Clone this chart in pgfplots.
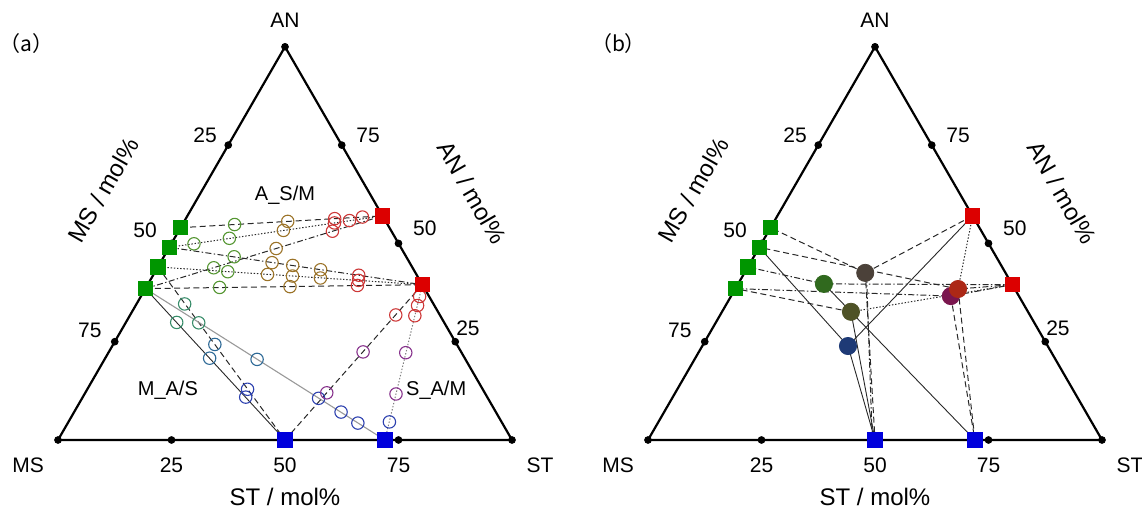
\documentclass[border=0pt]{standalone}
\usepackage{pgfplots}
\pgfplotsset{compat=1.18}
\usepackage{pgfplotstable}
\usepackage{fontspec}
\setmainfont{Liberation Sans}
\setsansfont{Liberation Sans}
\newfontfamily\cjk{Noto Sans CJK JP}

\definecolor{sqG}{RGB}{0,150,0}
\definecolor{sqR}{RGB}{220,0,0}
\definecolor{sqB}{RGB}{0,0,220}
\definecolor{cG}{RGB}{85,150,50}
\definecolor{cO}{RGB}{155,115,40}
\definecolor{cR}{RGB}{205,55,55}
\definecolor{cT}{RGB}{55,140,105}
\definecolor{cTB}{RGB}{45,105,150}
\definecolor{cB}{RGB}{45,65,175}
\definecolor{cP}{RGB}{135,50,140}
\definecolor{fBr}{RGB}{75,65,57}
\definecolor{fGr}{RGB}{48,105,30}
\definecolor{fOl}{RGB}{78,82,38}
\definecolor{fBl}{RGB}{30,58,118}
\definecolor{fRb}{RGB}{172,40,22}
\definecolor{fMa}{RGB}{122,22,78}
\definecolor{ln}{RGB}{40,40,40}

\tikzset{
  tk/.style={font=\fontsize{10.5}{12}\selectfont},
  ttl/.style={font=\fontsize{12}{14}\selectfont},
  grp/.style={font=\fontsize{10}{12}\selectfont},
}
\pgfplotsset{
  /pgfplots/table/tern/.style={/pgfplots/table/x expr={\thisrow{st}+0.5*\thisrow{an}},/pgfplots/table/y expr={0.866025*\thisrow{an}}},
  tri/.style={hide axis, clip=false, xmin=0,xmax=100,ymin=0,ymax=86.6025, x=2.27pt, y=2.27pt, anchor=south west},
  edge/.style={black, line width=1.1pt, no markers, line join=miter},
  tdot/.style={only marks, mark=*, mark size=1.7pt, black},
  sq/.style={only marks, mark=square*, mark size=3.6pt},
  oc/.style={only marks, mark=o, mark size=3.1pt, mark options={line width=0.55pt}},
  fc/.style={only marks, mark=*, mark size=4.3pt},
  ldash/.style={no markers, ln, line width=0.5pt, dash pattern=on 3pt off 1.8pt},
  ldot/.style={no markers, ln, line width=0.5pt, dash pattern=on 0.7pt off 0.9pt},
  ldd/.style={no markers, ln, line width=0.5pt, dash pattern=on 3pt off 1.2pt on 0.7pt off 1.2pt},
  lsol/.style={no markers, ln, line width=0.45pt},
  lgry/.style={no markers, gray!80, line width=0.55pt},
}

% end members: an st
\pgfplotstableread{
an st
54 0
49 0
44 0
38.5 0
}\tG
\pgfplotstableread{
an st
57 43
39.5 60.5
}\tR
\pgfplotstableread{
an st
0 50
0 72
}\tB
\pgfplotstableread{
an st
0 0
0 100
100 0
0 25
0 50
0 75
25 0
50 0
75 0
25 75
50 50
75 25
}\tDots
\pgfplotstableread{
an st
0 0
0 100
100 0
0 0
}\tTri
% open circles, panel (a)
\pgfplotstableread{
an st
54.8 11.5
49.9 5.0
51.3 12.1
43.8 12.4
46.6 15.5
42.8 16.0
38.8 16.2
}\aG
\pgfplotstableread{
an st
55.6 22.8
53.3 23.0
48.7 23.7
45.1 24.6
44.4 29.5
43.3 36.2
42.1 25.1
41.7 30.8
41.2 37.2
39.0 31.6
}\aO
\pgfplotstableread{
an st
56.3 32.8
56.7 38.7
55.2 33.3
55.8 36.3
53.1 33.9
41.9 45.3
40.6 45.9
39.3 46.3
36.5 61.4
34.2 62.1
31.6 62.8
31.8 58.5
}\aR
\pgfplotstableread{
an st
34.6 10.6
29.8 16.1
29.9 11.2
}\aT
\pgfplotstableread{
an st
24.3 22.4
20.8 23.0
20.5 33.6
}\aTB
\pgfplotstableread{
an st
12.9 35.3
10.9 35.9
10.6 52.1
7.1 58.8
4.3 63.9
4.6 70.7
}\aB
\pgfplotstableread{
an st
22.4 56.0
12.0 53.2
22.2 65.5
11.7 68.6
}\aP

\begin{document}
\begin{tikzpicture}
\useasboundingbox (0,0) rectangle (571pt,256pt);
% ---------------- panel (a)
\begin{axis}[tri, at={(29pt,36pt)}]
% tie lines A_S/M
\addplot[ldash] table[tern,row sep=\\]{an st\\54 0\\57 43\\};
\addplot[ldot]  table[tern,row sep=\\]{an st\\49 0\\57 43\\};
\addplot[ldd]   table[tern,row sep=\\]{an st\\38.5 0\\57 43\\};
\addplot[ldd]   table[tern,row sep=\\]{an st\\49 0\\39.5 60.5\\};
\addplot[ldot]  table[tern,row sep=\\]{an st\\44 0\\39.5 60.5\\};
\addplot[ldash] table[tern,row sep=\\]{an st\\38.5 0\\39.5 60.5\\};
% M_A/S
\addplot[ldash] table[tern,row sep=\\]{an st\\44 0\\0 50\\};
\addplot[lsol]  table[tern,row sep=\\]{an st\\38.5 0\\0 50\\};
\addplot[lgry]  table[tern,row sep=\\]{an st\\38.5 0\\0 72\\};
% S_A/M
\addplot[ldash] table[tern,row sep=\\]{an st\\39.5 60.5\\0 50\\};
\addplot[ldot,gray] table[tern,row sep=\\]{an st\\39.5 60.5\\0 72\\};
% triangle
\addplot[edge] table[tern] {\tTri};
\addplot[tdot] table[tern] {\tDots};
% circles
\addplot[oc, draw=cG]  table[tern] {\aG};
\addplot[oc, draw=cO]  table[tern] {\aO};
\addplot[oc, draw=cR]  table[tern] {\aR};
\addplot[oc, draw=cT]  table[tern] {\aT};
\addplot[oc, draw=cTB] table[tern] {\aTB};
\addplot[oc, draw=cB]  table[tern] {\aB};
\addplot[oc, draw=cP]  table[tern] {\aP};
% squares
\addplot[sq, sqG] table[tern] {\tG};
\addplot[sq, sqR] table[tern] {\tR};
\addplot[sq, sqB] table[tern] {\tB};
% labels
\node[tk] at (axis cs:50,92.5) {AN};
\node[tk] at (axis cs:-6.6,-5.5) {MS};
\node[tk] at (axis cs:106.2,-5.5) {ST};
\node[tk] at (axis cs:25,-5.5) {25};
\node[tk] at (axis cs:50,-5.5) {50};
\node[tk] at (axis cs:75,-5.5) {75};
\node[ttl] at (axis cs:50,-12.6) {ST / mol\%};
\node[tk] at (axis cs:32.4,67.2) {25};
\node[tk] at (axis cs:19.2,46.3) {50};
\node[tk] at (axis cs:7.0,24.2) {75};
\node[tk] at (axis cs:68.3,67.2) {75};
\node[tk] at (axis cs:80.8,46.7) {50};
\node[tk] at (axis cs:90.3,24.7) {25};
\node[ttl, rotate=60] at (axis cs:10,55) {MS / mol\%};
\node[ttl, rotate=-60] at (axis cs:91.2,54.5) {AN / mol\%};
\node[tk] at (axis cs:-7.0,87.4) {\cjk （a）};
\node[grp] at (axis cs:50,54) {A\_S/M};
\node[grp] at (axis cs:24.2,11) {M\_A/S};
\node[grp] at (axis cs:83.3,11) {S\_A/M};
\end{axis}
% ---------------- panel (b)
\begin{axis}[tri, at={(324pt,36pt)}]
% C1 dark brown 42.5 26.6
\addplot[ldash] table[tern,row sep=\\]{an st\\42.5 26.6\\54 0\\};
\addplot[ldash] table[tern,row sep=\\]{an st\\42.5 26.6\\57 43\\};
\addplot[ldash] table[tern,row sep=\\]{an st\\42.5 26.6\\0 50\\};
\addplot[ldd] table[tern,row sep=\\]{an st\\41.5 27.4\\0 49.4\\};
% C2 green 39.7 18.9
\addplot[ldd] table[tern,row sep=\\]{an st\\39.7 18.9\\44 0\\};
\addplot[ldd] table[tern,row sep=\\]{an st\\39.7 18.9\\39.5 60.5\\};
\addplot[lsol] table[tern,row sep=\\]{an st\\39.7 18.9\\0 72\\};
% C3 olive 32.6 28.4
\addplot[ldash] table[tern,row sep=\\]{an st\\32.6 28.4\\38.5 0\\};
\addplot[ldot] table[tern,row sep=\\]{an st\\32.6 28.4\\39.5 60.5\\};
\addplot[lsol] table[tern,row sep=\\]{an st\\32.6 28.4\\0 50\\};
% C4 blue 23.9 32.1
\addplot[lsol] table[tern,row sep=\\]{an st\\23.9 32.1\\49 0\\};
\addplot[lsol] table[tern,row sep=\\]{an st\\23.9 32.1\\57 43\\};
\addplot[lsol] table[tern,row sep=\\]{an st\\23.9 32.1\\0 50\\};
% C5 red-brown 38.4 49.1
\addplot[ldash] table[tern,row sep=\\]{an st\\38.4 49.1\\49 0\\};
\addplot[ldot] table[tern,row sep=\\]{an st\\38.4 49.1\\57 43\\};
\addplot[ldash] table[tern,row sep=\\]{an st\\38.4 49.1\\0 72\\};
\addplot[ldd] table[tern,row sep=\\]{an st\\38.4 49.1\\39.5 60.5\\};
% C6 maroon 36.6 48.4
\addplot[ldd] table[tern,row sep=\\]{an st\\36.6 48.4\\38.5 0\\};
\addplot[ldd] table[tern,row sep=\\]{an st\\36.6 48.4\\39.5 60.5\\};
\addplot[ldash] table[tern,row sep=\\]{an st\\36.6 48.4\\0 72\\};
% triangle
\addplot[edge] table[tern] {\tTri};
\addplot[tdot] table[tern] {\tDots};
% filled circles
\addplot[fc, fBr] table[tern,row sep=\\]{an st\\42.5 26.6\\};
\addplot[fc, fGr] table[tern,row sep=\\]{an st\\39.7 18.9\\};
\addplot[fc, fOl] table[tern,row sep=\\]{an st\\32.6 28.4\\};
\addplot[fc, fBl] table[tern,row sep=\\]{an st\\23.9 32.1\\};
\addplot[fc, fMa] table[tern,row sep=\\]{an st\\36.6 48.4\\};
\addplot[fc, fRb] table[tern,row sep=\\]{an st\\38.4 49.1\\};
% squares
\addplot[sq, sqG] table[tern] {\tG};
\addplot[sq, sqR] table[tern] {\tR};
\addplot[sq, sqB] table[tern] {\tB};
% labels
\node[tk] at (axis cs:50,92.5) {AN};
\node[tk] at (axis cs:-6.6,-5.5) {MS};
\node[tk] at (axis cs:106.2,-5.5) {ST};
\node[tk] at (axis cs:25,-5.5) {25};
\node[tk] at (axis cs:50,-5.5) {50};
\node[tk] at (axis cs:75,-5.5) {75};
\node[ttl] at (axis cs:50,-12.6) {ST / mol\%};
\node[tk] at (axis cs:32.4,67.2) {25};
\node[tk] at (axis cs:19.2,46.3) {50};
\node[tk] at (axis cs:7.0,24.2) {75};
\node[tk] at (axis cs:68.3,67.2) {75};
\node[tk] at (axis cs:80.8,46.7) {50};
\node[tk] at (axis cs:90.3,24.7) {25};
\node[ttl, rotate=60] at (axis cs:10,55) {MS / mol\%};
\node[ttl, rotate=-60] at (axis cs:91.2,54.5) {AN / mol\%};
\node[tk] at (axis cs:-6.5,87.4) {\cjk （b）};
\end{axis}
\end{tikzpicture}
\end{document}
